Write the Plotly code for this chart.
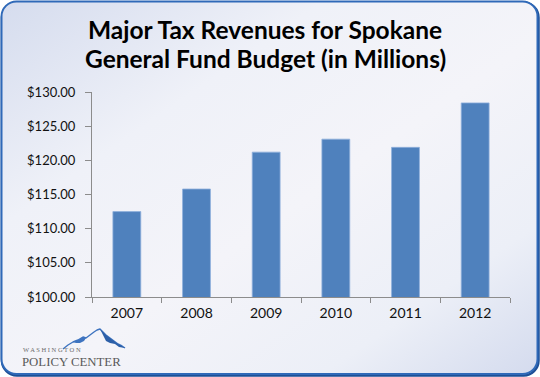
import base64
import plotly.graph_objects as go

years = ["2007", "2008", "2009", "2010", "2011", "2012"]
revenues = [112.5, 115.8, 121.2, 123.1, 121.9, 128.4]
y_ticks = [100, 105, 110, 115, 120, 125, 130]
y_tick_labels = ["$100.00", "$105.00", "$110.00", "$115.00", "$120.00", "$125.00", "$130.00"]
title_lines = ["Major Tax Revenues for Spokane", "General Fund Budget (in Millions)"]
logo_small = "W A S H I N G T O N"
logo_big = "POLICY CENTER"

W, H = 540, 377
ML, MR, MT, MB = 92, 30, 92, 80
PW, PH = W - ML - MR, H - MT - MB


def px(x):
    return (x - ML) / PW


def py(y):
    return (H - MB - y) / PH


bg_svg = f'''<svg xmlns="http://www.w3.org/2000/svg" width="{W}" height="{H}" viewBox="0 0 {W} {H}">
<defs>
<linearGradient id="g" x1="0" y1="0" x2="1" y2="1">
<stop offset="0" stop-color="#d5dcee"/>
<stop offset="0.3" stop-color="#eff1f8"/>
<stop offset="0.55" stop-color="#f4f4f9"/>
<stop offset="0.8" stop-color="#eceff7"/>
<stop offset="1" stop-color="#d4dbee"/>
</linearGradient>
</defs>
<rect x="2" y="2.5" width="536.5" height="373" rx="15" ry="15" fill="none" stroke="#1d4f96" stroke-width="2.5"/>
<rect x="1.5" y="1.5" width="536" height="372.5" rx="15" ry="15" fill="url(#g)" stroke="#2f69b8" stroke-width="2"/>
<path d="M63,349 L68,345 L73,342 L78,340 L83,337 L86,338 L90,335 L94,332 L97,330 L100,329 L103,332 L106,335 L110,338 L114,341 L118,344 L122,346 L125,348"
 fill="none" stroke="#3e74c0" stroke-width="1.4" stroke-linejoin="round"/>
<path d="M100,329 L103,332 L106,335 L110,338 L114,341 L118,344 L122,346 L125,348 L119,347 L115,344 L110,343 L106,341 L104,337 L102,333 Z" fill="#2c5fa8"/>
<path d="M73,342 L78,340 L83,337 L86,338 L84,341 L80,343 L76,343 Z" fill="#3e74c0"/>
</svg>'''
bg_uri = "data:image/svg+xml;base64," + base64.b64encode(bg_svg.encode()).decode()

fig = go.Figure()
fig.add_trace(go.Bar(
    x=years, y=revenues,
    marker=dict(color="#4f81bd", line=dict(color="#8fb0dc", width=0.8)),
    width=0.4,
))

title_font = dict(family="Lato, sans-serif", size=24.5, color="#000000", weight="bold")

fig.update_layout(
    width=W, height=H,
    margin=dict(l=ML, r=MR, t=MT, b=MB),
    paper_bgcolor="white",
    plot_bgcolor="rgba(0,0,0,0)",
    showlegend=False,
    font=dict(family="Lato, sans-serif", color="#111111"),
    xaxis=dict(
        type="category",
        showline=True, linecolor="#8c8c8c", linewidth=1,
        ticks="outside", tickson="boundaries", ticklen=5, tickcolor="#8c8c8c",
        tickfont=dict(size=14, color="#111111"),
        ticklabelstandoff=3,
        showgrid=False, zeroline=False,
    ),
    yaxis=dict(
        range=[100, 130],
        tickvals=y_ticks, ticktext=y_tick_labels,
        showline=True, linecolor="#8c8c8c", linewidth=1,
        ticks="outside", ticklen=6, tickcolor="#8c8c8c",
        tickfont=dict(size=13, color="#111111"),
        ticklabelstandoff=7,
        showgrid=False, zeroline=False,
    ),
    images=[dict(
        source=bg_uri, xref="paper", yref="paper",
        x=-ML / PW, y=1 + MT / PH, sizex=W / PW, sizey=H / PH,
        xanchor="left", yanchor="top", sizing="stretch", layer="below",
    )],
    annotations=[
        dict(text=title_lines[0], xref="paper", yref="paper",
             x=px(W / 2 - 5), y=py(30), xanchor="center", yanchor="middle",
             showarrow=False, font=title_font),
        dict(text=title_lines[1], xref="paper", yref="paper",
             x=px(W / 2 - 5), y=py(58), xanchor="center", yanchor="middle",
             showarrow=False, font=title_font),
        dict(text=logo_small, xref="paper", yref="paper",
             x=px(21), y=py(349.5), xanchor="left", yanchor="middle",
             showarrow=False, font=dict(family="Liberation Serif, serif", size=6.5, color="#6b6b6b")),
        dict(text=logo_big, xref="paper", yref="paper",
             x=px(20), y=py(361.5), xanchor="left", yanchor="middle",
             showarrow=False, font=dict(family="Liberation Serif, serif", size=12.8, color="#5a5a5a")),
    ],
)

fig.write_html("out.html", config={"displayModeBar": False},
               post_script="document.body.style.margin='0';")
